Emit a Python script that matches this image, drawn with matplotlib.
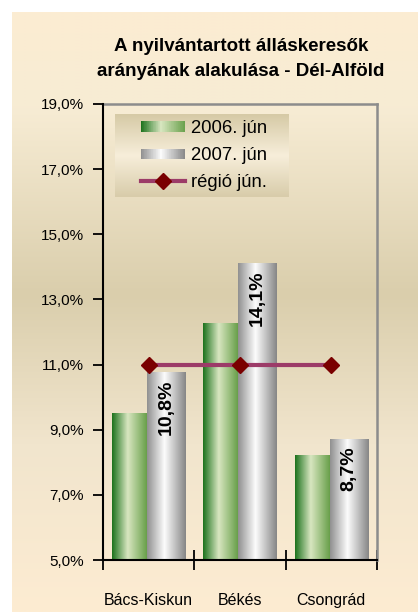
import matplotlib
matplotlib.use("Agg")
import matplotlib.pyplot as plt
import numpy as np
from matplotlib import font_manager
from matplotlib.legend_handler import HandlerBase
from matplotlib.patches import Rectangle
from matplotlib.lines import Line2D

# data
categories = ["Bács-Kiskun", "Békés", "Csongrád"]
y2006 = [9.5, 12.25, 8.2]
y2007 = [10.75, 14.1, 8.7]
regio = [11.0, 11.0, 11.0]
labels2007 = ["10,8%", "14,1%", "8,7%"]
series_names = ["2006. jún", "2007. jún", "régió jún."]
title = "A nyilvántartott álláskeresők\narányának alakulása - Dél-Alföld"


def pick_font(names):
    for n in names:
        try:
            font_manager.findfont(n, fallback_to_default=False)
            return n
        except Exception:
            pass
    return "DejaVu Sans"


main_font = pick_font(["Liberation Sans", "Arial", "DejaVu Sans"])
narrow_font = pick_font(["Liberation Sans Narrow", "Arial Narrow", main_font])
narrow = narrow_font != main_font
plt.rcParams["font.family"] = main_font


def grad(stops, n=64):
    pos = np.array([s[0] for s in stops])
    cols = np.array([s[1] for s in stops], dtype=float) / 255
    t = np.linspace(0, 1, n)
    return np.stack([np.interp(t, pos, cols[:, k]) for k in range(3)], axis=1)


green_g = grad([(0, (30, 115, 30)), (0.45, (216, 230, 192)), (1, (105, 160, 75))])
gray_g = grad([(0, (145, 145, 145)), (0.45, (252, 252, 252)), (1, (135, 135, 135))])

fig = plt.figure(figsize=(4.18, 6.12), dpi=100)
fig.patch.set_facecolor("white")

# background gradient of the chart area
bg = fig.add_axes([12 / 418, 0, 1 - 12 / 418, 600 / 612], zorder=-10)
bg_col = grad([(0, (252, 236, 210)), (0.16, (247, 236, 212)), (0.47, (218, 206, 172)),
               (0.72, (241, 229, 205)), (1, (253, 236, 210))], 200)
bg.imshow(bg_col[:, None, :], aspect="auto", extent=(0, 1, 1, 0))
bg.axis("off")

# legend background
lbg = fig.add_axes([115 / 418, 1 - 197 / 612, 174 / 418, 83 / 612], zorder=-5)
lg_col = grad([(0, (214, 202, 166)), (0.5, (247, 238, 218)), (1, (216, 204, 170))], 100)
lbg.imshow(lg_col[:, None, :], aspect="auto", extent=(0, 1, 1, 0))
lbg.axis("off")

ax = fig.add_axes([103 / 418, 52 / 612, 274 / 418, 456 / 612])
ax.patch.set_alpha(0)

x = np.arange(len(categories))
gl, gw = -0.40, 0.38
sl, sw = -0.02, 0.42
for i in range(len(categories)):
    ax.imshow(green_g[None, :, :], aspect="auto", zorder=2,
              extent=(x[i] + gl, x[i] + gl + gw, 5, y2006[i]))
    ax.imshow(gray_g[None, :, :], aspect="auto", zorder=2,
              extent=(x[i] + sl, x[i] + sl + sw, 5, y2007[i]))
    ax.annotate(labels2007[i], (x[i] + sl + sw / 2, y2007[i]), xytext=(0, -5),
                textcoords="offset points", rotation=90, ha="center", va="top",
                fontsize=14, fontweight="bold", zorder=4)

ax.plot(x, regio, color="#9C3B68", lw=3, marker="D", markersize=8,
        markerfacecolor="#7A0000", markeredgecolor="#7A0000", zorder=3)

tick_fs = 14 if narrow else 11
cat_fs = 14 if narrow else 11.5
ax.set_xlim(-0.5, 2.5)
ax.set_ylim(5, 19)
ax.set_yticks(np.arange(5, 19.1, 2))
ax.set_yticklabels([f"{v:.1f}%".replace(".", ",") for v in np.arange(5, 19.1, 2)],
                   fontfamily=narrow_font, fontsize=tick_fs)
ax.set_xticks([-0.5, 0.5, 1.5, 2.5])
ax.set_xticklabels([])
ax.set_xticks(x, minor=True)
ax.set_xticklabels(categories, minor=True, fontfamily=narrow_font, fontsize=cat_fs)
ax.tick_params(axis="x", which="major", direction="inout", length=14, width=1.3)
ax.tick_params(axis="x", which="minor", length=0, pad=24)
ax.tick_params(axis="y", direction="out", length=7, width=1.3, pad=7)

for s in ["left", "bottom"]:
    ax.spines[s].set_color("black")
    ax.spines[s].set_linewidth(1.5)
    ax.spines[s].set_zorder(5)
for s in ["top", "right"]:
    ax.spines[s].set_color("#8C8C8C")
    ax.spines[s].set_linewidth(1.8)

fig.text(241 / 418, 1 - 59 / 612, title, ha="center", va="center",
         fontsize=13.5, fontweight="bold", linespacing=1.65)


class GradHandler(HandlerBase):
    def __init__(self, cols):
        super().__init__()
        self.cols = cols

    def create_artists(self, legend, orig_handle, xdescent, ydescent, width, height,
                       fontsize, trans):
        n = len(self.cols)
        arts = []
        h = height * 0.78
        y0 = -ydescent + (height - h) / 2
        for k, c in enumerate(self.cols):
            r = Rectangle((-xdescent + width * k / n, y0), width / n * 1.05, h,
                          facecolor=c, edgecolor="none", transform=trans)
            arts.append(r)
        return arts


h1 = Rectangle((0, 0), 1, 1)
h2 = Rectangle((0, 0), 1, 1)
h3 = Line2D([], [], color="#9C3B68", lw=3, marker="D", markersize=8,
            markerfacecolor="#7A0000", markeredgecolor="#7A0000")
fig.legend([h1, h2, h3], series_names, loc="upper left",
           bbox_to_anchor=(141 / 418, 1 - 120 / 612), frameon=False,
           fontsize=13.3, handlelength=2.4, handletextpad=0.3, labelspacing=0.55,
           borderaxespad=0, borderpad=0,
           handler_map={h1: GradHandler(green_g), h2: GradHandler(gray_g)})

fig.savefig("out.png", dpi=100)
